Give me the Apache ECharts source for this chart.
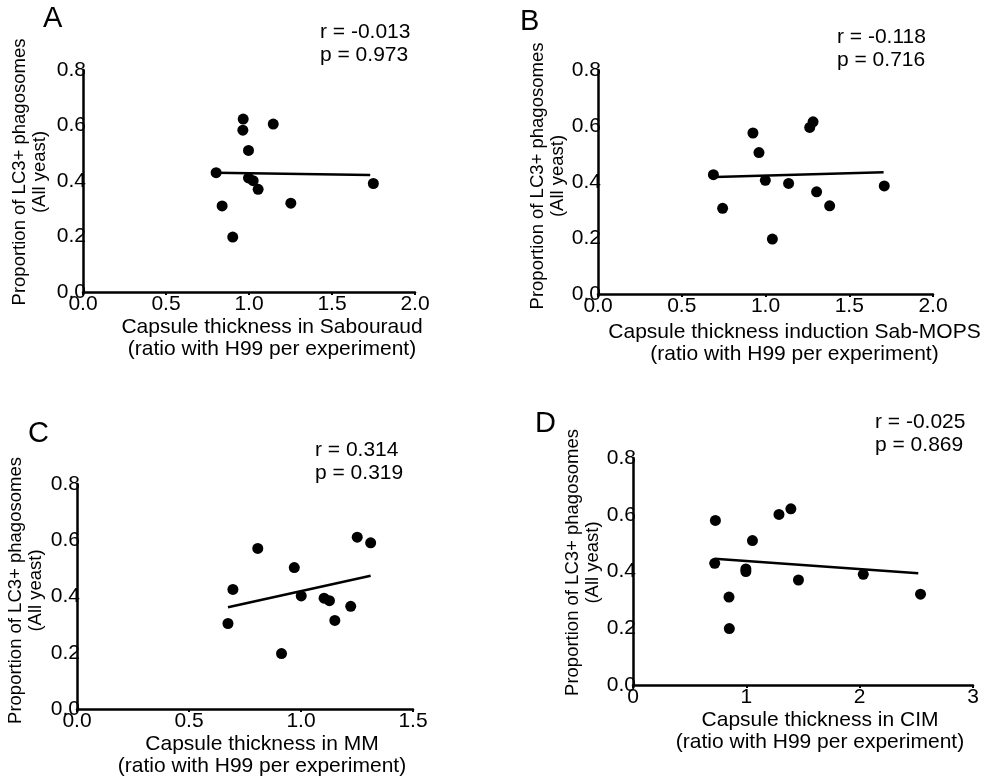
<!DOCTYPE html>
<html>
<head>
<meta charset="utf-8">
<script src="https://cdn.jsdelivr.net/npm/echarts@6/dist/echarts.min.js"></script>
<style>html,body{margin:0;padding:0;background:#fff}#c{width:984px;height:778px}</style>
</head>
<body>
<div id="c"></div>
<script>
// ---- data ----
const panelLetters = ['A', 'B', 'C', 'D'];
const statsText = ['r = -0.013\np = 0.973', 'r = -0.118\np = 0.716', 'r = 0.314\np = 0.319', 'r = -0.025\np = 0.869'];
const xTitles = [
  'Capsule thickness in Sabouraud\n(ratio with H99 per experiment)',
  'Capsule thickness induction Sab-MOPS\n(ratio with H99 per experiment)',
  'Capsule thickness in MM\n(ratio with H99 per experiment)',
  'Capsule thickness in CIM\n(ratio with H99 per experiment)'
];
const yTitle = 'Proportion of LC3+ phagosomes\n(All yeast)';
const xTicksAB = ['0.0', '0.5', '1.0', '1.5', '2.0'];
const xTicksC = ['0.0', '0.5', '1.0', '1.5'];
const xTicksD = ['0', '1', '2', '3'];
const yTicks = ['0.0', '0.2', '0.4', '0.6', '0.8'];

const xA = [0.965, 1.146, 0.963, 0.997, 0.802, 0.997, 1.025, 1.055, 1.749, 0.838, 1.252, 0.902];
const yA = [0.623, 0.605, 0.583, 0.510, 0.430, 0.411, 0.401, 0.370, 0.391, 0.310, 0.320, 0.198];
const xB = [1.284, 1.264, 0.925, 0.961, 0.689, 0.999, 1.138, 1.709, 1.305, 1.383, 0.744, 1.041];
const yB = [0.615, 0.595, 0.575, 0.505, 0.426, 0.406, 0.395, 0.386, 0.365, 0.315, 0.306, 0.196];
const xC = [1.251, 1.311, 0.807, 0.970, 0.696, 1.001, 1.103, 1.127, 1.222, 1.151, 0.674, 0.913];
const yC = [0.611, 0.591, 0.571, 0.503, 0.425, 0.402, 0.394, 0.385, 0.365, 0.315, 0.304, 0.197];
const xD = [1.393, 1.288, 0.727, 1.054, 0.721, 0.996, 0.996, 2.032, 1.460, 2.537, 0.847, 0.850];
const yD = [0.621, 0.601, 0.580, 0.509, 0.429, 0.409, 0.400, 0.390, 0.370, 0.320, 0.310, 0.199];

// regression line end points (x, y) as drawn in the reference
const fitA = [[0.80, 0.430], [1.73, 0.422]];
const fitB = [[0.70, 0.418], [1.705, 0.435]];
const fitC = [[0.674, 0.362], [1.311, 0.474]];
const fitD = [[0.721, 0.445], [2.517, 0.394]];

// ---- layout ----
const FONT = 'Arial, "Liberation Sans", sans-serif';
const grids = [
  {left: 83, top: 70, width: 332, height: 222},
  {left: 598, top: 70, width: 335, height: 224},
  {left: 77, top: 484, width: 336, height: 225},
  {left: 633, top: 458, width: 340, height: 227}
];
const letterPos = [[43, 4], [520, 7], [28, 419], [535, 409]];
const statPos = [[320, 21], [837, 26], [315, 439], [875, 411]];
const xNameGap = [22, 27, 22, 23];
const xNameShift = [23, 29, 17, 17];
const yNameGap = [33, 29, 31, 27];
const yNameShift = [9, 6, 6, 9];

const xTickSets = [xTicksAB, xTicksAB, xTicksC, xTicksD];
const xs = [xA, xB, xC, xD];
const ys = [yA, yB, yC, yD];
const fits = [fitA, fitB, fitC, fitD];

function axisFromTicks(ticks) {
  const v = ticks.map(Number);
  const dec = (ticks[0].split('.')[1] || '').length;
  return {min: v[0], max: v[v.length - 1], interval: v[1] - v[0], dec: dec};
}

const option = {
  backgroundColor: '#fff',
  animation: false,
  title: [],
  grid: grids.map(g => Object.assign({containLabel: false}, g)),
  xAxis: [],
  yAxis: [],
  series: []
};

for (let i = 0; i < 4; i++) {
  option.title.push({
    text: panelLetters[i], left: letterPos[i][0], top: letterPos[i][1], padding: 0,
    textStyle: {fontFamily: FONT, fontSize: 29, fontWeight: 'normal', color: '#000'}
  });
  option.title.push({
    text: statsText[i], left: statPos[i][0], top: statPos[i][1], padding: 0,
    textStyle: {fontFamily: FONT, fontSize: 21, fontWeight: 'normal', color: '#000', lineHeight: 23}
  });
  const xa = axisFromTicks(xTickSets[i]);
  option.xAxis.push({
    type: 'value', gridIndex: i, min: xa.min, max: xa.max, interval: xa.interval,
    name: xTitles[i], nameLocation: 'middle', nameGap: xNameGap[i],
    nameTextStyle: {fontFamily: FONT, fontSize: 21, color: '#000', lineHeight: 22, padding: [0, 0, 0, 2 * xNameShift[i]]},
    axisLine: {show: true, onZero: false, lineStyle: {color: '#000', width: 2.5}},
    axisTick: {show: true, length: 3, lineStyle: {color: '#000', width: 2}},
    splitLine: {show: false},
    axisLabel: {color: '#000', fontFamily: FONT, fontSize: 21, margin: 2,
      showMinLabel: true, showMaxLabel: true,
      formatter: (v) => v.toFixed(xa.dec)}
  });
  const ya = axisFromTicks(yTicks);
  option.yAxis.push({
    type: 'value', gridIndex: i, min: ya.min, max: ya.max, interval: ya.interval,
    name: yTitle, nameLocation: 'middle', nameGap: yNameGap[i], nameRotate: 90,
    nameTextStyle: {fontFamily: FONT, fontSize: 18.5, color: '#000', lineHeight: 20, padding: [0, 0, 0, 2 * yNameShift[i]]},
    axisLine: {show: true, onZero: false, lineStyle: {color: '#000', width: 2.5}},
    axisTick: {show: false},
    splitLine: {show: false},
    axisLabel: {color: '#000', fontFamily: FONT, fontSize: 21, margin: -3,
      showMinLabel: true, showMaxLabel: true,
      formatter: (v) => v.toFixed(ya.dec)}
  });
  option.series.push({
    type: 'scatter', xAxisIndex: i, yAxisIndex: i,
    symbol: 'circle', symbolSize: 11,
    itemStyle: {color: '#000', opacity: 1},
    data: xs[i].map((x, k) => [x, ys[i][k]])
  });
  option.series.push({
    type: 'line', xAxisIndex: i, yAxisIndex: i,
    showSymbol: false, symbol: 'none',
    lineStyle: {color: '#000', width: 2.5},
    data: fits[i]
  });
}

const chart = echarts.init(document.getElementById('c'), null, {renderer: 'canvas'});
chart.setOption(option);
</script>
</body>
</html>
